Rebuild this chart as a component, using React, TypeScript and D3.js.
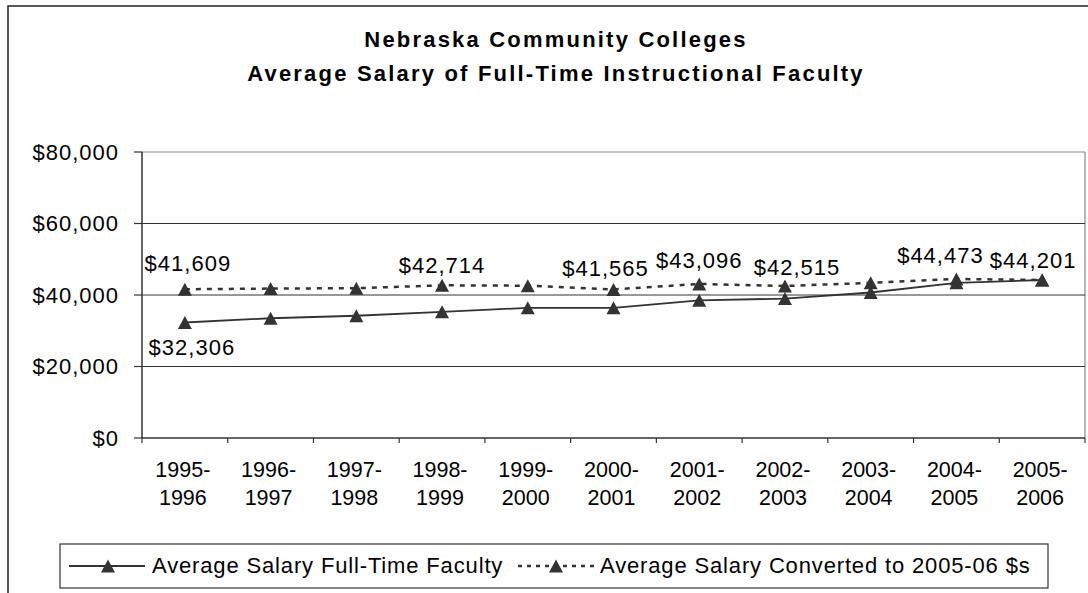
import React from "react";
import * as d3 from "d3";

const categories = [
  "1995-1996", "1996-1997", "1997-1998", "1998-1999", "1999-2000", "2000-2001",
  "2001-2002", "2002-2003", "2003-2004", "2004-2005", "2005-2006",
];
const fullTimeSalary = [32306, 33500, 34200, 35300, 36400, 36400, 38500, 39000, 40700, 43400, 44201];
const convertedSalary = [41609, 41800, 41900, 42714, 42600, 41565, 43096, 42515, 43400, 44473, 44201];
const yTicks = [0, 20000, 40000, 60000, 80000];
const titleLines = ["Nebraska Community Colleges", "Average Salary of Full-Time Instructional Faculty"];
const seriesNames = ["Average Salary Full-Time Faculty", "Average Salary Converted to 2005-06 $s"];

// which points carry data labels, with label offsets (layout only)
const convertedLabels = [
  { i: 0, dx: 3, dy: -18 },
  { i: 3, dx: 0, dy: -12 },
  { i: 5, dx: -8, dy: -13 },
  { i: 6, dx: 0, dy: -16 },
  { i: 7, dx: 12, dy: -11 },
  { i: 9, dx: -16, dy: -16 },
  { i: 10, dx: -9, dy: -12 },
];
const fullTimeLabels = [{ i: 0, dx: 7, dy: 32 }];

const FONT = "'Liberation Sans', Arial, Helvetica, sans-serif";
const INK = "#333";

const fmt = (v: number) => "$" + d3.format(",")(v);

function tri(cx: number, cy: number, w = 14, h = 13) {
  return `M${cx - w / 2},${cy + h / 2}L${cx + w / 2},${cy + h / 2}L${cx},${cy - h / 2}Z`;
}

export default function App() {
  const W = 1088, H = 593;
  const left = 142, right = 1085, top = 152, bottom = 438;
  const x = d3.scaleBand<string>().domain(categories).range([left, right]);
  const y = d3.scaleLinear().domain([0, 80000]).range([bottom, top]);
  const cx = (c: string) => (x(c) as number) + x.bandwidth() / 2;

  const line = d3
    .line<number>()
    .x((_, i) => cx(categories[i]))
    .y((d) => y(d));

  const bandEdges = categories.map((c) => x(c) as number).concat([right]);

  return (
    <svg
      width={W}
      height={H}
      style={{ position: "absolute", left: 0, top: 0, background: "#fff" }}
      fontFamily={FONT}
    >
      <rect x={0} y={0} width={W} height={H} fill="#fff" />
      {/* outer chart border */}
      <rect x={8} y={6} width={W + 20} height={H + 20} fill="none" stroke="#222" strokeWidth={1.5} />

      {/* title */}
      <text x={556} y={47} textAnchor="middle" fontSize={22} fontWeight="bold" letterSpacing={2.2} fill="#000">
        {titleLines[0]}
      </text>
      <text x={556} y={81} textAnchor="middle" fontSize={22} fontWeight="bold" letterSpacing={2.2} fill="#000">
        {titleLines[1]}
      </text>

      {/* plot border (gray) */}
      <line x1={left} x2={right} y1={top} y2={top} stroke="#888" strokeWidth={1.2} />
      <line x1={right} x2={right} y1={top} y2={bottom} stroke="#888" strokeWidth={1.2} />

      {/* gridlines */}
      {yTicks.filter((t) => t > 0 && t < 80000).map((t) => (
        <line key={t} x1={left} x2={right} y1={y(t)} y2={y(t)} stroke={INK} strokeWidth={1.2} />
      ))}

      {/* axes */}
      <line x1={left} x2={left} y1={top} y2={bottom} stroke={INK} strokeWidth={1.5} />
      <line x1={left} x2={right} y1={bottom} y2={bottom} stroke={INK} strokeWidth={1.5} />
      {yTicks.map((t) => (
        <g key={t}>
          <line x1={left - 8} x2={left} y1={y(t)} y2={y(t)} stroke={INK} strokeWidth={1.2} />
          <text x={119} y={y(t) + 7.5} textAnchor="end" fontSize={22} letterSpacing={1} fill="#000">
            {fmt(t)}
          </text>
        </g>
      ))}
      {bandEdges.map((e, i) => (
        <line key={i} x1={e} x2={e} y1={bottom} y2={bottom + 5} stroke={INK} strokeWidth={1.2} />
      ))}
      {categories.map((c) => {
        const [a, b] = c.split("-");
        return (
          <g key={c}>
            <text x={cx(c) - 2} y={476.5} textAnchor="middle" fontSize={21.5} fill="#000">{a + "-"}</text>
            <text x={cx(c) - 2} y={505} textAnchor="middle" fontSize={21.5} fill="#000">{b}</text>
          </g>
        );
      })}

      {/* series lines */}
      <path d={line(convertedSalary) as string} fill="none" stroke={INK} strokeWidth={2.5} strokeDasharray="5,6" />
      <path d={line(fullTimeSalary) as string} fill="none" stroke={INK} strokeWidth={1.8} />

      {/* markers */}
      {convertedSalary.map((v, i) => (
        <path key={"c" + i} d={tri(cx(categories[i]), y(v))} fill={INK} />
      ))}
      {fullTimeSalary.map((v, i) => (
        <path key={"f" + i} d={tri(cx(categories[i]), y(v))} fill={INK} />
      ))}

      {/* data labels */}
      {convertedLabels.map(({ i, dx, dy }) => (
        <text key={"cl" + i} x={cx(categories[i]) + dx} y={y(convertedSalary[i]) + dy}
          textAnchor="middle" fontSize={22} letterSpacing={1} fill="#000">
          {fmt(convertedSalary[i])}
        </text>
      ))}
      {fullTimeLabels.map(({ i, dx, dy }) => (
        <text key={"fl" + i} x={cx(categories[i]) + dx} y={y(fullTimeSalary[i]) + dy}
          textAnchor="middle" fontSize={22} letterSpacing={1} fill="#000">
          {fmt(fullTimeSalary[i])}
        </text>
      ))}

      {/* legend */}
      <rect x={60} y={544} width={988} height={44} fill="#fff" stroke={INK} strokeWidth={1.2} />
      <line x1={69} x2={145} y1={566} y2={566} stroke={INK} strokeWidth={1.8} />
      <path d={tri(108, 566)} fill={INK} />
      <text x={152} y={572.5} fontSize={22} letterSpacing={0.85} fill="#000">{seriesNames[0]}</text>
      <line x1={518} x2={596} y1={566} y2={566} stroke={INK} strokeWidth={2.5} strokeDasharray="4,5" />
      <path d={tri(556, 566)} fill={INK} />
      <text x={600} y={572.5} fontSize={22} letterSpacing={0.85} fill="#000">{seriesNames[1]}</text>
    </svg>
  );
}
